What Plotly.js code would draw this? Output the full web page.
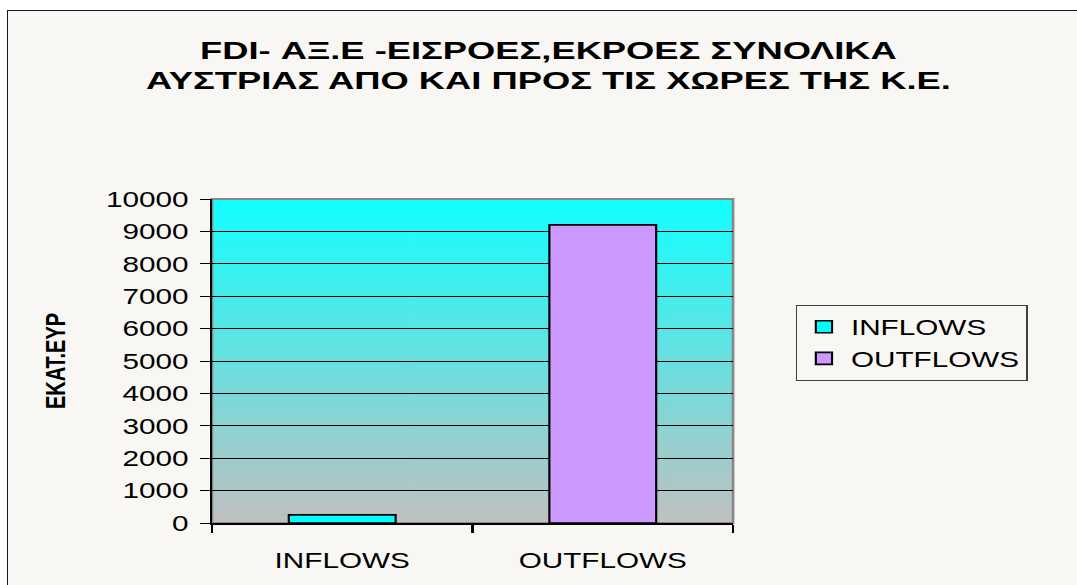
<!DOCTYPE html>
<html>
<head>
<meta charset="utf-8">
<script src="https://cdn.plot.ly/plotly-3.0.1.min.js"></script>
<style>
  html, body { margin: 0; padding: 0; background: #ffffff; overflow: hidden; width: 1077px; height: 585px; }
  #frame { position: absolute; left: 7px; top: 10px; width: 1100px; height: 600px;
           border-left: 1.5px solid #1a1a1a; border-top: 1.5px solid #1a1a1a; background: #f8f7f3; }
  #chart { position: absolute; left: 0; top: 0; width: 798px; height: 585px;
           transform: scaleX(1.35); transform-origin: 0 0; }
  #chart .gtitle { transform-box: fill-box; transform-origin: center; transform: scaleX(1.17); }
</style>
</head>
<body>
<div id="frame"></div>
<div id="chart"></div>
<script>
// ---- data ----
const categories = ['INFLOWS', 'OUTFLOWS'];
const seriesNames = ['INFLOWS', 'OUTFLOWS'];
const seriesValues = [250, 9200];
const seriesColors = ['#00FFFF', '#CC99FF'];
const titleLines = ['FDI- ΑΞ.Ε -ΕΙΣΡΟΕΣ,ΕΚΡΟΕΣ ΣΥΝΟΛΙΚΑ', 'ΑΥΣΤΡΙΑΣ ΑΠΟ ΚΑΙ ΠΡΟΣ ΤΙΣ ΧΩΡΕΣ ΤΗΣ Κ.Ε.'];
const yAxisTitle = 'ΕΚΑΤ.ΕΥΡ';
const yTickValues = [0, 1000, 2000, 3000, 4000, 5000, 6000, 7000, 8000, 9000, 10000];

// ---- background gradient for plot area ----
const cv = document.createElement('canvas');
cv.width = 4; cv.height = 400;
const ctx = cv.getContext('2d');
const grad = ctx.createLinearGradient(0, 0, 0, 400);
grad.addColorStop(0, '#12ffff');
grad.addColorStop(1, '#c0c0c0');
ctx.fillStyle = grad;
ctx.fillRect(0, 0, 4, 400);
const gradSrc = cv.toDataURL();

const FONT = 'Liberation Sans, Arial, sans-serif';

const traces = seriesNames.map((name, i) => ({
  type: 'bar',
  name: name,
  x: [categories[i]],
  y: [seriesValues[i]],
  width: 0.41,
  marker: { color: seriesColors[i], line: { color: '#000000', width: 1.6 } },
  hoverinfo: 'skip'
}));

const layout = {
  width: 798,
  height: 585,
  margin: { l: 157, r: 255, t: 199, b: 62, pad: 0 },
  paper_bgcolor: 'rgba(0,0,0,0)',
  plot_bgcolor: 'rgba(0,0,0,0)',
  font: { family: FONT, color: '#000000', size: 22 },
  barmode: 'overlay',
  title: {
    text: titleLines.join('<br>'),
    font: { family: FONT, size: 23, color: '#000000', weight: 'bold' },
    xref: 'container', x: 0.509, xanchor: 'center',
    yref: 'container', y: 0.899, yanchor: 'top'
  },
  xaxis: {
    type: 'category',
    categoryorder: 'array',
    categoryarray: categories,
    tickson: 'boundaries',
    ticks: 'outside', ticklen: 8, tickwidth: 1.5, tickcolor: '#000000',
    showline: true, linecolor: '#000000', linewidth: 1.5,
    showgrid: false, zeroline: false,
    tickfont: { family: FONT, size: 22, color: '#000000' },
    ticklabelstandoff: 17,
    fixedrange: true
  },
  yaxis: {
    range: [0, 10000],
    tickvals: yTickValues,
    tickformat: 'd',
    ticks: 'outside', ticklen: 7.4, tickwidth: 1, tickcolor: '#000000',
    showline: true, linecolor: '#000000', linewidth: 1.5,
    showgrid: true, gridcolor: '#000000', gridwidth: 1,
    zeroline: false,
    tickfont: { family: FONT, size: 22, color: '#000000' },
    ticklabelstandoff: 4,
    title: { text: yAxisTitle, font: { family: FONT, size: 20, color: '#000000', weight: 'bold' }, standoff: 24 },
    fixedrange: true
  },
  legend: {
    x: 1.12, y: 0.673, xanchor: 'left', yanchor: 'top',
    bgcolor: 'rgba(0,0,0,0)', bordercolor: '#404040', borderwidth: 1,
    font: { family: FONT, size: 22, color: '#000000' },
    itemwidth: 30
  },
  showlegend: true,
  images: [{
    source: gradSrc, xref: 'paper', yref: 'paper', x: 0, y: 1, sizex: 1, sizey: 1,
    xanchor: 'left', yanchor: 'top', sizing: 'stretch', layer: 'below'
  }],
  shapes: [{
    type: 'rect', xref: 'paper', yref: 'paper', x0: 0, x1: 1, y0: 0, y1: 1,
    line: { color: '#888888', width: 2 }, fillcolor: 'rgba(0,0,0,0)', layer: 'below'
  }]
};

Plotly.newPlot('chart', traces, layout, { staticPlot: true, displayModeBar: false });
</script>
</body>
</html>
